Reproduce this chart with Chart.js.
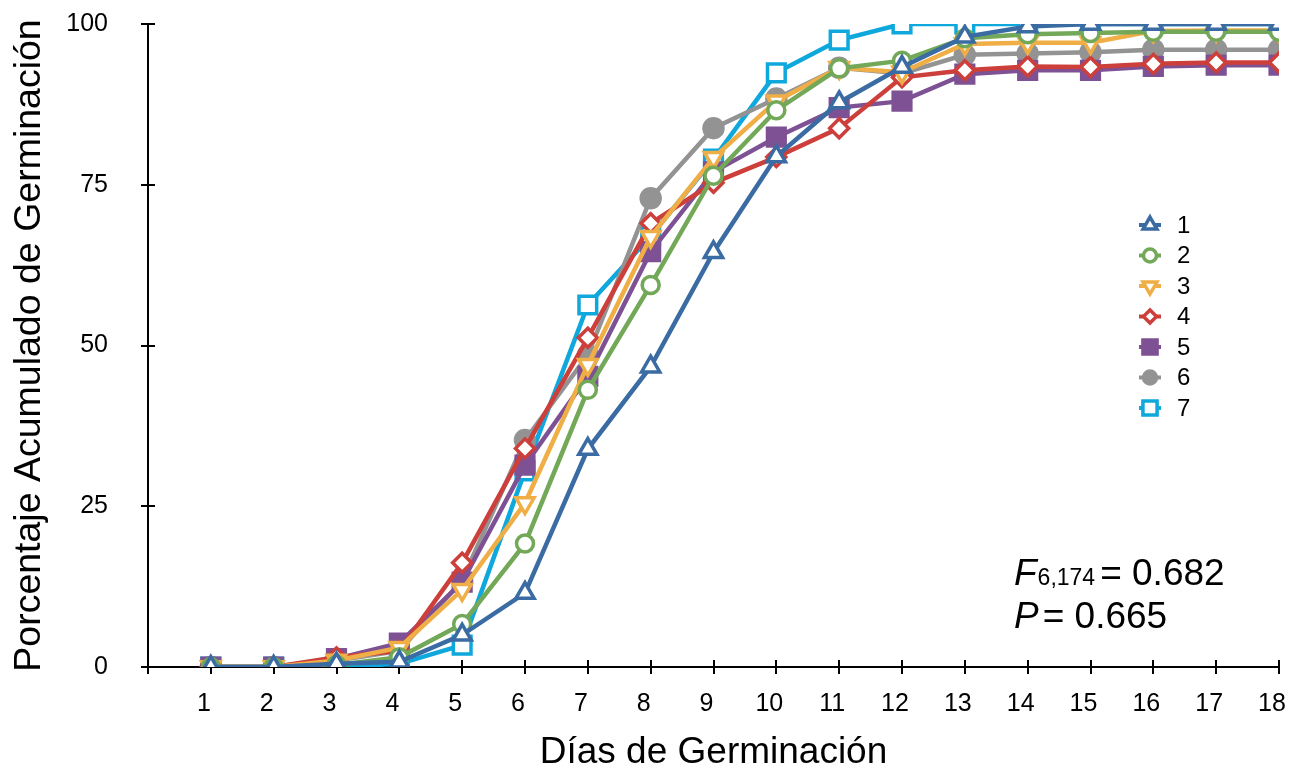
<!DOCTYPE html>
<html>
<head>
<meta charset="utf-8">
<script src="https://cdn.jsdelivr.net/npm/chart.js@4.4.1/dist/chart.umd.min.js"></script>
<style>
  html, body { margin: 0; padding: 0; background: #ffffff; }
  #wrap { width: 1295px; height: 770px; position: relative; }
</style>
</head>
<body>
<div id="wrap"><canvas id="c" width="1295" height="770"></canvas></div>
<script>
// ---- data ----
const days = [1,2,3,4,5,6,7,8,9,10,11,12,13,14,15,16,17,18];
const seriesNames = ['1','2','3','4','5','6','7'];
const s1 = [0,0,0.5,0.8,5,11.5,33.9,46.7,64.5,79.4,87.8,93.3,98,99.6,100,100,100,100];
const s2 = [0,0,0.3,1.5,6.7,19.2,43.1,59.4,76.4,86.6,93.1,94.3,97.8,98.4,98.6,98.8,98.8,98.8];
const s3 = [0,0,1,3,12,25.5,47,66.9,79.2,88,93.2,92.5,96.9,97.1,97.1,98.9,99,99];
const s4 = [0,0,1.5,2.5,16.2,34,51.2,69,75.3,79.3,83.8,91.7,92.8,93.4,93.3,93.8,94,94];
const s5 = [0,0,1.3,3.7,13.2,31.4,45.2,64.6,77,82.4,87,88,92.2,92.8,92.8,93.4,93.6,93.6];
const s6 = [0,0,1,2.5,13.5,35.3,48.5,72.9,83.8,88.4,93.2,92.3,95.2,95.4,95.6,96,96,96];
const s7 = [0,0,0,0.5,3.4,30.5,56.3,67,79,92.4,97.5,100,100,100,100,100,100,100];
const yTicks = [0,25,50,75,100];
const xTitle = 'Días de Germinación';
const yTitle = 'Porcentaje Acumulado de Germinación';

// ---- styles ----
const colors = ['#3B6BA3','#72A857','#F0AE47','#CD3F3B','#7E5194','#939393','#0FA8DC'];
const styles = [
  {ps:'triangle', rot:0, r:10.5, fill:false},
  {ps:'circle', rot:0, r:8.5, fill:false},
  {ps:'triangle', rot:180, r:10.5, fill:false},
  {ps:'rectRot', rot:0, r:9.5, fill:false},
  {ps:'rect', rot:0, r:12.5, fill:true},
  {ps:'circle', rot:0, r:9.5, fill:true},
  {ps:'rect', rot:0, r:12.5, fill:false}
];
const allSeries = [s1,s2,s3,s4,s5,s6,s7];

const datasets = allSeries.map((s, i) => ({
  label: seriesNames[i],
  data: days.map((d, j) => ({x: d, y: s[j]})),
  borderColor: colors[i],
  borderWidth: 4.5,
  pointStyle: styles[i].ps,
  pointRotation: styles[i].rot,
  pointRadius: styles[i].r,
  pointBorderWidth: 3.5,
  pointBorderColor: colors[i],
  pointBackgroundColor: styles[i].fill ? colors[i] : '#ffffff',
  tension: 0,
  fill: false
}));

const FONT = '"Liberation Sans", Arial, Helvetica, sans-serif';

const innerTicks = {
  id: 'innerTicks',
  beforeDatasetsDraw(chart) {
    const ctx = chart.ctx, xs = chart.scales.x, ys = chart.scales.y;
    const area = chart.chartArea;
    ctx.save();
    ctx.strokeStyle = '#000'; ctx.lineWidth = 2;
    ctx.beginPath();
    xs.ticks.forEach(t => {
      const px = Math.round(xs.getPixelForValue(t.value));
      ctx.moveTo(px, area.bottom); ctx.lineTo(px, area.bottom - 7);
    });
    ys.ticks.forEach(t => {
      const py = Math.round(ys.getPixelForValue(t.value));
      ctx.moveTo(area.left, py); ctx.lineTo(area.left + 7, py);
    });
    ctx.stroke();
    ctx.restore();
  }
};

function drawMarker(ctx, st, color, x, y, r) {
  ctx.save();
  ctx.lineWidth = 3.5;
  ctx.strokeStyle = color;
  ctx.fillStyle = st.fill ? color : '#ffffff';
  ctx.beginPath();
  if (st.ps === 'circle') {
    ctx.arc(x, y, r, 0, Math.PI * 2);
  } else if (st.ps === 'triangle') {
    const a0 = (st.rot ? Math.PI / 2 : -Math.PI / 2);
    for (let k = 0; k < 3; k++) {
      const a = a0 + k * 2 * Math.PI / 3;
      const px = x + Math.cos(a) * r, py = y + Math.sin(a) * r;
      if (k === 0) ctx.moveTo(px, py); else ctx.lineTo(px, py);
    }
    ctx.closePath();
  } else if (st.ps === 'rectRot') {
    ctx.moveTo(x, y - r); ctx.lineTo(x + r, y); ctx.lineTo(x, y + r); ctx.lineTo(x - r, y); ctx.closePath();
  } else {
    const h = r * Math.SQRT1_2;
    ctx.rect(x - h, y - h, 2 * h, 2 * h);
  }
  ctx.fill();
  ctx.stroke();
  ctx.restore();
}

const legendPlugin = {
  id: 'customLegend',
  afterDatasetsDraw(chart) {
    const ctx = chart.ctx;
    ctx.save();
    const x0 = 1150, y0 = 225, dy = 30.5;
    seriesNames.forEach((name, i) => {
      const y = y0 + i * dy;
      ctx.strokeStyle = colors[i]; ctx.lineWidth = 4;
      ctx.beginPath(); ctx.moveTo(x0 - 11, y); ctx.lineTo(x0 + 11, y); ctx.stroke();
      drawMarker(ctx, styles[i], colors[i], x0, y, styles[i].ps === 'rect' ? 10 : (styles[i].ps === 'triangle' ? 8 : 6.5));
      ctx.fillStyle = '#000';
      ctx.font = '24px ' + FONT;
      ctx.textBaseline = 'middle';
      ctx.textAlign = 'left';
      ctx.fillText(name, 1177, y + 1);
    });
    ctx.restore();
  }
};

const statsPlugin = {
  id: 'stats',
  afterDraw(chart) {
    const ctx = chart.ctx;
    ctx.save();
    ctx.fillStyle = '#000';
    ctx.textBaseline = 'alphabetic';
    ctx.textAlign = 'left';
    // line 1
    let x = 1014, y = 585;
    ctx.font = 'italic 37px ' + FONT;
    ctx.fillText('F', x, y);
    x += ctx.measureText('F').width + 1;
    ctx.font = '23px ' + FONT;
    ctx.fillText('6,174', x, y);
    x += ctx.measureText('6,174').width + 5;
    ctx.font = '37px ' + FONT;
    ctx.fillText('= 0.682', x, y);
    // line 2
    x = 1014; y = 628;
    ctx.font = 'italic 37px ' + FONT;
    ctx.fillText('P', x, y);
    x += ctx.measureText('P').width + 4;
    ctx.font = '37px ' + FONT;
    ctx.fillText('= 0.665', x, y);
    ctx.restore();
  }
};

new Chart(document.getElementById('c'), {
  type: 'line',
  data: { datasets },
  options: {
    responsive: false,
    animation: false,
    events: [],
    layout: { padding: { left: 0, right: 8, top: 24, bottom: 0 } },
    plugins: { legend: { display: false }, tooltip: { enabled: false } },
    scales: {
      x: {
        type: 'linear',
        min: 0, max: 18,
        afterBuildTicks(scale) { scale.ticks = [0].concat(days).map(v => ({value: v})); },
        afterFit(scale) { scale.height = 103; scale.paddingLeft = 0; scale.paddingRight = 0; },
        border: { display: true, color: '#000', width: 2 },
        grid: { display: true, drawOnChartArea: false, drawTicks: true, tickLength: 7, color: '#000', lineWidth: 2 },
        ticks: {
          color: '#000', font: { family: FONT, size: 25 }, padding: 15, labelOffset: -7,
          maxRotation: 0, autoSkip: false,
          callback: v => (v === 0 ? '' : String(v))
        },
        title: { display: true, text: xTitle, color: '#000', font: { family: FONT, size: 37 }, padding: { top: 0, bottom: -5 } }
      },
      y: {
        min: 0, max: 100,
        afterBuildTicks(scale) { scale.ticks = yTicks.map(v => ({value: v})); },
        afterFit(scale) { scale.width = 148; scale.paddingTop = 0; scale.paddingBottom = 0; },
        border: { display: true, color: '#000', width: 2 },
        grid: { display: true, drawOnChartArea: false, drawTicks: true, tickLength: 7, color: '#000', lineWidth: 2 },
        ticks: { color: '#000', font: { family: FONT, size: 25 }, padding: 33 },
        title: { display: true, text: yTitle, color: '#000', font: { family: FONT, size: 37.5 }, padding: { top: 7, bottom: 0 } }
      }
    }
  },
  plugins: [innerTicks, legendPlugin, statsPlugin]
});
</script>
</body>
</html>
